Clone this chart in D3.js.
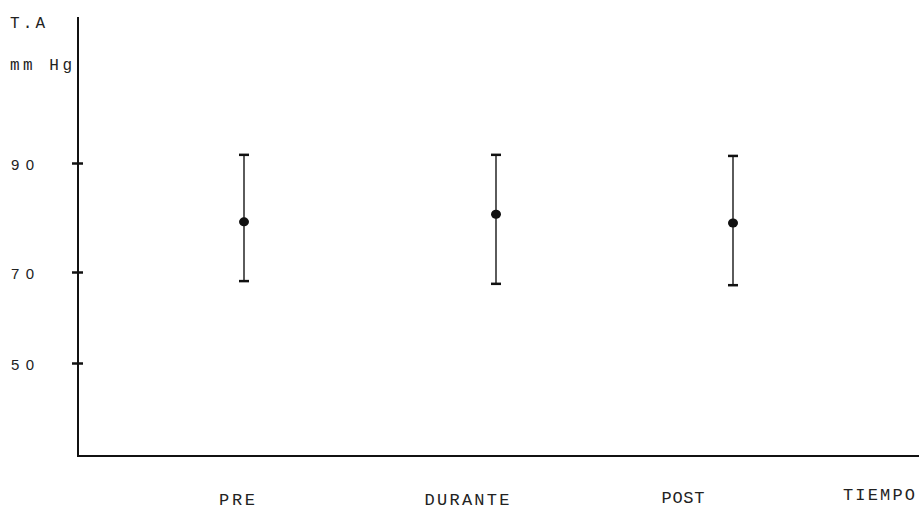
<!DOCTYPE html>
<html><head><meta charset="utf-8">
<script src="https://cdn.jsdelivr.net/npm/d3@7"></script>
<style>html,body{margin:0;padding:0;background:#fff;}svg{display:block;}</style>
</head><body>
<svg id="chart" width="919" height="511"></svg>
<script>
const categories = ["PRE", "DURANTE", "POST"];
const means = [79.2, 80.6, 79.0];
const upper = [91.5, 91.5, 91.3];
const lower = [68.0, 67.4, 67.1];
const yTicks = [50, 70, 90];
const yTitle = ["T.A", "mm Hg"];
const xTitle = "TIEMPO";

const svg = d3.select("#chart");
const ink = "#111";
const mono = "Liberation Mono, Courier New, monospace";

// hand-drawn axis: piecewise linear scale following the drawn tick positions
const y = d3.scaleLinear().domain([30, 50, 70, 90, 117]).range([454, 363, 272, 163, 16]);
// hand-placed (unequal) category positions
const x = d3.scaleOrdinal().domain(categories).range([244, 496, 733]);
const xLab = d3.scaleOrdinal().domain(categories).range([237, 467, 683]);

const axisX = 78, axisY = 456;

svg.append("line").attr("x1", axisX).attr("x2", axisX).attr("y1", 17).attr("y2", axisY + 1)
  .attr("stroke", ink).attr("stroke-width", 2);
svg.append("line").attr("x1", axisX - 1).attr("x2", 919).attr("y1", axisY).attr("y2", axisY)
  .attr("stroke", ink).attr("stroke-width", 2);

const yAxis = d3.axisLeft(y).tickValues(yTicks).tickSize(0).tickFormat("");
const ga = svg.append("g").attr("transform", `translate(${axisX},0)`).call(yAxis);
ga.select(".domain").remove();
ga.selectAll(".tick").append("line").attr("x1", -6).attr("x2", 5)
  .attr("stroke", ink).attr("stroke-width", 2.5);

svg.selectAll(".ylab").data(yTicks).enter().append("text")
  .attr("x", 11).attr("y", d => y(d) + 7)
  .attr("font-family", "Liberation Sans, Arial, sans-serif").attr("font-size", 15)
  .attr("textLength", 23).attr("lengthAdjust", "spacing")
  .attr("fill", "#222").text(d => d);

svg.selectAll(".ytitle").data(yTitle).enter().append("text")
  .attr("x", 10).attr("y", (d, i) => i === 0 ? 28 : 70)
  .attr("font-family", mono).attr("font-size", 16)
  .attr("textLength", (d, i) => i === 0 ? 35 : 62).attr("lengthAdjust", "spacing")
  .attr("fill", "#222").text(d => d);

const labBase = { "PRE": 505, "DURANTE": 505, "POST": 503 };
const labLen = { "PRE": 36, "DURANTE": 85, "POST": 43 };
svg.selectAll(".xlab").data(categories).enter().append("text")
  .attr("x", d => xLab(d) - labLen[d] / 2).attr("y", d => labBase[d])
  .attr("font-family", mono).attr("font-size", 17)
  .attr("textLength", d => labLen[d]).attr("lengthAdjust", "spacing")
  .attr("fill", "#222").text(d => d);

svg.append("text").attr("x", 843).attr("y", 500)
  .attr("font-family", mono).attr("font-size", 17)
  .attr("textLength", 72).attr("lengthAdjust", "spacing")
  .attr("fill", "#222").text(xTitle);

const g = svg.append("g");
categories.forEach((c, i) => {
  const cx = x(c);
  g.append("line").attr("x1", cx).attr("x2", cx).attr("y1", y(upper[i])).attr("y2", y(lower[i]))
    .attr("stroke", "#333").attr("stroke-width", 1.6);
  [upper[i], lower[i]].forEach(v => {
    g.append("line").attr("x1", cx - 5).attr("x2", cx + 5).attr("y1", y(v)).attr("y2", y(v))
      .attr("stroke", ink).attr("stroke-width", 2.5);
  });
  g.append("ellipse").attr("cx", cx).attr("cy", y(means[i])).attr("rx", 5).attr("ry", 4.5)
    .attr("fill", ink);
});
</script>
</body></html>
